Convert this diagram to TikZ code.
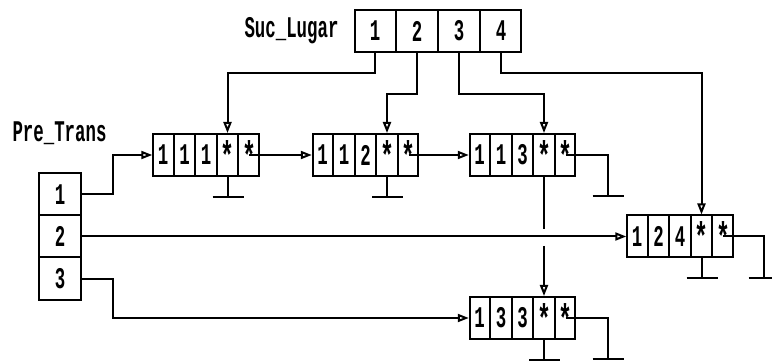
\documentclass[tikz,border=0pt]{standalone}
\usepackage{fontspec}
\newfontfamily\dosfont[FakeStretch=0.58]{Liberation Mono}
\usetikzlibrary{shapes.multipart, arrows.meta, calc}

\newcommand{\ptrnil}{\raisebox{-13pt}{\fontsize{40}{40}\selectfont *}}

\begin{document}
\begin{tikzpicture}[
    x=1pt,y=-1pt,
    line width=2pt,
    font=\dosfont\bfseries\fontsize{30}{32}\selectfont,
    lst/.style={draw, rectangle split, rectangle split horizontal, rectangle split parts=5, inner xsep=0pt, inner ysep=0pt, text width=19.5pt, align=center, minimum height=42pt},
    sucarr/.style={draw, rectangle split, rectangle split horizontal, rectangle split parts=4, inner xsep=0pt, inner ysep=0pt, text width=40pt, align=center, minimum height=42pt},
    prearr/.style={draw, rectangle split, rectangle split parts=3, inner xsep=0pt, inner ysep=10pt, text width=42.5pt, align=center},
    ptr/.style={-{Triangle[open, length=11pt, width=8pt]}}
]
    \useasboundingbox (0,0) rectangle (772,363);

    % --- Arrays ---
    \node[sucarr] (suc) at (438,31) {1\nodepart{two}2\nodepart{three}3\nodepart{four}4};
    \node[anchor=base] (suclabel) at (291.5,38) {Suc\_Lugar};
    \node[prearr] (pre) at (60,236.5) {1\nodepart{two}2\nodepart{three}3};
    \node[anchor=base] (prelabel) at (59.5,142) {Pre\_Trans};

    % --- Lists ---
    \node[lst] (l1) at (206,155) {1\nodepart{two}1\nodepart{three}1\nodepart{four}\ptrnil\nodepart{five}\ptrnil};
    \node[lst] (l2) at (365.5,155) {1\nodepart{two}1\nodepart{three}2\nodepart{four}\ptrnil\nodepart{five}\ptrnil};
    \node[lst] (l3) at (522.5,155) {1\nodepart{two}1\nodepart{three}3\nodepart{four}\ptrnil\nodepart{five}\ptrnil};
    \node[lst] (l4) at (680,236.5) {1\nodepart{two}2\nodepart{three}4\nodepart{four}\ptrnil\nodepart{five}\ptrnil};
    \node[lst] (l5) at (522.5,318) {1\nodepart{two}3\nodepart{three}3\nodepart{four}\ptrnil\nodepart{five}\ptrnil};

    % --- Suc_Lugar pointers ---
    \draw[ptr] (suc.one south) -- ++(0,20) -| (l1.four north);
    \draw[ptr] (suc.two south) -- ++(0,41) -| (l2.four north);
    \draw[ptr] (suc.three south) -- ++(0,41) -| (l3.four north);
    \draw[ptr] (suc.four south) -- ++(0,20) -| (l4.four north);

    % --- Pre_Trans pointers ---
    \draw[ptr] ($(pre.north east)!.5!(pre.one split east)$) -- ++(31,0) |- (l1.west);
    \draw[ptr] (pre.east) -- (l4.west);
    \draw[ptr] ($(pre.two split east)!.5!(pre.south east)$) -- ++(31,0) |- (l5.west);

    % --- Next pointers ---
    \draw[ptr] (l1.five north |- l1.center) -- (l2.west);
    \draw[ptr] (l2.five north |- l2.center) -- (l3.west);
    \draw (l3.four south) -- ++(0,52) coordinate (brk);
    \draw[ptr] ($(brk)+(0,17)$) -- (l5.four north);

    % --- Nil grounds ---
    \draw (l1.four south) -- ++(0,20) ++(-15,0) -- ++(31,0);
    \draw (l2.four south) -- ++(0,20) ++(-15,0) -- ++(31,0);
    \draw (l4.four south) -- ++(0,20) ++(-15,0) -- ++(31,0);
    \draw (l5.four south) -- ++(0,20) ++(-15,0) -- ++(31,0);
    \draw (l3.five north |- l3.center) -| ++(42,41) ++(-15,0) -- ++(31,0);
    \draw (l4.five north |- l4.center) -| ++(40.5,41.5) ++(-15,0) -- ++(24,0);
    \draw (l5.five north |- l5.center) -| ++(42,41) ++(-15,0) -- ++(31,0);

\end{tikzpicture}
\end{document}
